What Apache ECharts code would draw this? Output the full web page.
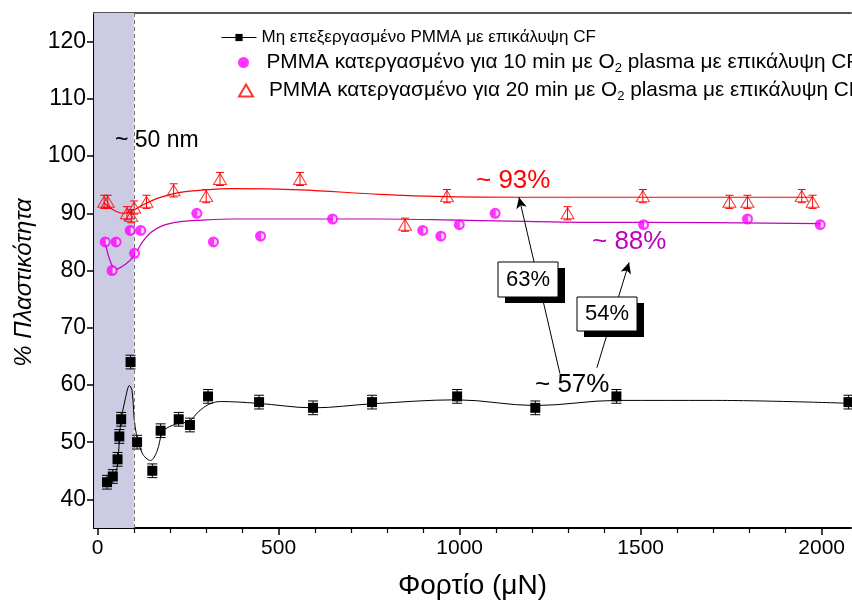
<!DOCTYPE html>
<html>
<head>
<meta charset="utf-8">
<script src="https://cdn.jsdelivr.net/npm/echarts@6/dist/echarts.min.js"></script>
<style>
  html, body { margin: 0; padding: 0; background: #fff; }
  #chart { width: 852px; height: 606px; }
</style>
</head>
<body>
<div id="chart"></div>
<script>
// Plasticity (%) versus applied load for PMMA films with a CF coating.
const FONT = "'Liberation Sans', Arial, sans-serif";

const nameUntreated = 'Μη επεξεργασμένο PMMA με επικάλυψη CF';
const name10min = 'PMMA κατεργασμένο για 10 min με O2 plasma με επικάλυψη CF';
const name20min = 'PMMA κατεργασμένο για 20 min με O2 plasma με επικάλυψη CF';

// Untreated PMMA
const untreatedLoad = [26, 42, 55, 60, 65, 91, 109, 151, 174, 224, 255, 305, 446, 595, 758, 993, 1209, 1433, 2074];
const untreatedPlast = [43, 44, 47, 51, 54, 64, 50, 45, 52, 54, 53, 58, 57, 56, 57, 58, 56, 58, 57];
const untreatedErr = 1.2;

// 10 min O2 plasma
const p10Load = [21, 40, 51, 90, 102, 119, 274, 320, 450, 649, 898, 948, 999, 1098, 1508, 1795, 1996];
const p10Plast = [85, 80, 85, 87, 83, 87, 90, 85, 86, 89, 87, 86, 88, 90, 88, 89, 88];

// 20 min O2 plasma
const p20Load = [18, 28, 81, 93, 101, 135, 210, 300, 338, 559, 849, 965, 1298, 1506, 1745, 1795, 1945, 1975];
const p20Plast = [92, 92, 90, 89.5, 91, 92, 94, 93, 96, 96, 88, 93, 90, 93, 92, 92, 93, 92];
const p20Err = 1.15;

// Smoothed trend curves
const untreatedFit = [[22, 42.5], [40, 43.6], [54, 45.6], [63, 53], [77, 57.7], [88, 59.9], [95, 59], [104, 52.5],
  [123, 48.1], [146, 46.8], [164, 48.4], [178, 51.6], [192, 52.5], [224, 53.3], [252, 53.6], [280, 55.4],
  [307, 56.6], [339, 57.1], [440, 56.8], [596, 56], [757, 56.7], [992, 57.4], [1209, 56.4], [1434, 57.3],
  [1701, 57.3], [2074, 56.8]];
const p10Fit = [[22, 84.6], [35, 81.6], [50, 80.2], [77, 81.1], [100, 82.5], [123, 84.9], [146, 86.6], [178, 87.8],
  [224, 88.5], [289, 88.8], [372, 89], [504, 89], [780, 89], [1000, 88.8], [1388, 88.4], [1508, 88.4], [1996, 88.2]];
const p20Fit = [[18, 91.8], [49, 90.4], [72, 90], [95, 90.4], [123, 91.4], [169, 92.7], [224, 93.6], [298, 94.1],
  [372, 94.3], [559, 94.1], [780, 93.3], [965, 92.9], [1167, 92.8], [1508, 92.8], [1975, 92.8]];

// Axis ranges and ticks
const xRange = [-10, 2081];
const yRange = [35, 125];
const xTicks = [0, 500, 1000, 1500, 2000];
const xMinorTicks = [100, 200, 300, 400, 600, 700, 800, 900, 1100, 1200, 1300, 1400, 1600, 1700, 1800, 1900];
const yTicks = [40, 50, 60, 70, 80, 90, 100, 110, 120];
const yMinorTicks = [45, 55, 65, 75, 85, 95, 105, 115];

// ~50 nm band and annotation arrows
const filmBand = [-10, 100];
const arrow63 = [[1277, 62.0], [1164, 92.8]];
const arrow54 = [[1379, 63.0], [1468, 81.4]];

const zip = (xs, ys) => xs.map((x, i) => [x, ys[i]]);
const zipErr = (xs, ys, e) => xs.map((x, i) => [x, ys[i], e]);

function errorBars(color, cap) {
  return function (params, api) {
    const x = api.value(0), y = api.value(1), e = api.value(2);
    const hi = api.coord([x, y + e]), lo = api.coord([x, y - e]);
    const st = { stroke: color, lineWidth: 1 };
    return {
      type: 'group', children: [
        { type: 'line', shape: { x1: hi[0], y1: hi[1], x2: lo[0], y2: lo[1] }, style: st },
        { type: 'line', shape: { x1: hi[0] - cap, y1: hi[1], x2: hi[0] + cap, y2: hi[1] }, style: st },
        { type: 'line', shape: { x1: lo[0] - cap, y1: lo[1], x2: lo[0] + cap, y2: lo[1] }, style: st }
      ]
    };
  };
}

// legend text; the O2 subscript is drawn as rich text
const legendFmt = n => n.replace('O2', 'O{s|2}');
const legendText = size => ({
  fontSize: size, fontFamily: FONT, color: '#000',
  rich: { s: { fontSize: Math.round(size * 0.62), fontFamily: FONT, color: '#000', verticalAlign: 'bottom', padding: [Math.round(size * 0.55), 0, 0, 0] } }
});

const chart = echarts.init(document.getElementById('chart'), null, { renderer: 'canvas' });

const option = {
  animation: false,
  backgroundColor: '#fff',
  textStyle: { fontFamily: FONT },
  grid: { left: 94, top: 13, right: 1, height: 515 },
  legend: [
    { data: [nameUntreated], left: 221, top: 29, padding: 0, itemWidth: 35, itemHeight: 9, selectedMode: false,
      textStyle: legendText(17), formatter: legendFmt, lineStyle: { color: '#000', width: 1, opacity: 1 } },
    { data: [name10min], left: 238, top: 52, padding: 0, itemWidth: 14, itemHeight: 11, selectedMode: false,
      textStyle: Object.assign({ padding: [0, 0, 0, 11] }, legendText(20.8)), formatter: legendFmt },
    { data: [name20min], left: 238, top: 80, padding: 0, itemWidth: 14, itemHeight: 12, selectedMode: false,
      textStyle: Object.assign({ padding: [0, 0, 0, 11] }, legendText(20.8)), formatter: legendFmt }
  ],
  xAxis: [
    {
      type: 'value', min: xRange[0], max: xRange[1], position: 'bottom',
      axisLine: { show: true, onZero: false, lineStyle: { color: '#000', width: 2 } },
      axisTick: { show: true, customValues: xTicks, length: 7, lineStyle: { color: '#000', width: 1.5 } },
      axisLabel: { customValues: xTicks, margin: 10, fontSize: 21, fontFamily: FONT, color: '#000',
        formatter: v => String(v) },
      splitLine: { show: false },
      name: 'Φορτίο (μN)', nameLocation: 'middle', nameGap: 44,
      nameTextStyle: { fontSize: 28, fontFamily: FONT, color: '#000' }
    },
    {
      type: 'value', min: xRange[0], max: xRange[1], position: 'bottom',
      axisLine: { show: false },
      axisTick: { show: true, customValues: xMinorTicks, length: 5, lineStyle: { color: '#000', width: 1.2 } },
      axisLabel: { show: false }, splitLine: { show: false }
    },
    {
      // upper frame line
      type: 'value', min: xRange[0], max: xRange[1], position: 'top',
      axisLine: { show: true, onZero: false, lineStyle: { color: '#555', width: 2 } },
      axisTick: { show: false }, axisLabel: { show: false }, splitLine: { show: false }
    }
  ],
  yAxis: [
    {
      type: 'value', min: yRange[0], max: yRange[1], position: 'left',
      axisLine: { show: true, onZero: false, lineStyle: { color: '#000', width: 2 } },
      axisTick: { show: true, customValues: yTicks, length: 7, lineStyle: { color: '#000', width: 1.5 } },
      axisLabel: { customValues: yTicks, margin: 8, fontSize: 23, fontFamily: FONT, color: '#000' },
      splitLine: { show: false },
      name: '% Πλαστικότητα', nameLocation: 'middle', nameGap: 56,
      nameTextStyle: { fontSize: 24, fontStyle: 'italic', fontFamily: FONT, color: '#000', padding: [0, 24, 0, 0] }
    },
    {
      type: 'value', min: yRange[0], max: yRange[1], position: 'left',
      axisLine: { show: false },
      axisTick: { show: true, customValues: yMinorTicks, length: 4, lineStyle: { color: '#000', width: 1.2 } },
      axisLabel: { show: false }, splitLine: { show: false }
    }
  ],
  series: [
    // ~50 nm band with dashed boundary
    {
      type: 'line', data: [], silent: true, z: 0,
      markArea: { silent: true, itemStyle: { color: '#cbcbe4' }, data: [[{ xAxis: filmBand[0] }, { xAxis: filmBand[1] }]] },
      markLine: { silent: true, symbol: 'none', label: { show: false },
        lineStyle: { color: '#777', type: [4, 3], width: 1 }, data: [{ xAxis: filmBand[1] }] }
    },
    // trend curves
    { type: 'line', data: untreatedFit, smooth: 0.35, showSymbol: false, symbol: 'none', silent: true, z: 3,
      lineStyle: { color: '#000', width: 1 } },
    { type: 'line', data: p10Fit, smooth: 0.35, showSymbol: false, symbol: 'none', silent: true, z: 3,
      lineStyle: { color: '#c000c0', width: 1.2 } },
    { type: 'line', data: p20Fit, smooth: 0.35, showSymbol: false, symbol: 'none', silent: true, z: 3,
      lineStyle: { color: '#ff0000', width: 1.2 } },
    // error bars
    { type: 'custom', renderItem: errorBars('#000', 5), data: zipErr(untreatedLoad, untreatedPlast, untreatedErr), silent: true, z: 4 },
    { type: 'custom', renderItem: errorBars('#ff0000', 4), data: zipErr(p20Load, p20Plast, p20Err), silent: true, z: 4 },
    // markers
    { name: nameUntreated, type: 'line', data: zip(untreatedLoad, untreatedPlast), symbol: 'rect', symbolSize: 10,
      showSymbol: true, itemStyle: { color: '#000' }, lineStyle: { width: 0, opacity: 0 }, z: 5 },
    { name: name10min, type: 'scatter', data: zip(p10Load, p10Plast), symbol: 'circle', symbolSize: 11,
      itemStyle: { color: '#ff00ff' }, z: 5 },
    { type: 'scatter', data: zip(p10Load, p10Plast), symbol: 'path://M0,0 A10,10 0 0,1 0,20 Z', symbolSize: [3, 6],
      symbolOffset: [2, 0], itemStyle: { color: '#fff' }, silent: true, z: 6 },
    { name: name20min, type: 'scatter', data: zip(p20Load, p20Plast), symbol: 'triangle', symbolSize: [13, 11],
      itemStyle: { color: 'rgba(255,255,255,0)', borderColor: '#ff0000', borderWidth: 1 }, z: 5 },
    // arrows from the ~57% level toward the treated plateaus
    {
      type: 'line', data: [], silent: true, z: 7,
      markLine: { silent: true, symbol: ['none', 'arrow'], symbolSize: [8, 11], label: { show: false },
        lineStyle: { color: '#000', width: 1, type: 'solid' },
        data: [
          [{ coord: arrow63[0] }, { coord: arrow63[1] }],
          [{ coord: arrow54[0] }, { coord: arrow54[1] }]
        ] }
    }
  ],
  graphic: [
    { type: 'text', x: 115, y: 141, z: 50, style: { text: '~ 50 nm', font: '23px ' + FONT, fill: '#000', textVerticalAlign: 'middle' } },
    { type: 'text', x: 476, y: 181, z: 50, style: { text: '~ 93%', font: '26px ' + FONT, fill: '#ff0000', textVerticalAlign: 'middle' } },
    { type: 'text', x: 592, y: 242, z: 50, style: { text: '~ 88%', font: '26px ' + FONT, fill: '#c000c0', textVerticalAlign: 'middle' } },
    { type: 'text', x: 535, y: 385, z: 50, style: { text: '~ 57%', font: '26px ' + FONT, fill: '#000', textVerticalAlign: 'middle' } },
    { type: 'rect', z: 50, shape: { x: 505, y: 268, width: 60, height: 35 }, style: { fill: '#000' } },
    { type: 'rect', z: 51, shape: { x: 498, y: 262, width: 60, height: 35 }, style: { fill: '#fff', stroke: '#000', lineWidth: 1 } },
    { type: 'text', x: 528, y: 280, z: 52, style: { text: '63%', font: '22px ' + FONT, fill: '#000', textAlign: 'center', textVerticalAlign: 'middle' } },
    { type: 'rect', z: 50, shape: { x: 584, y: 303, width: 60, height: 34 }, style: { fill: '#000' } },
    { type: 'rect', z: 51, shape: { x: 577, y: 297, width: 60, height: 34 }, style: { fill: '#fff', stroke: '#000', lineWidth: 1 } },
    { type: 'text', x: 607, y: 314, z: 52, style: { text: '54%', font: '22px ' + FONT, fill: '#000', textAlign: 'center', textVerticalAlign: 'middle' } }
  ]
};

chart.setOption(option);
</script>
</body>
</html>
